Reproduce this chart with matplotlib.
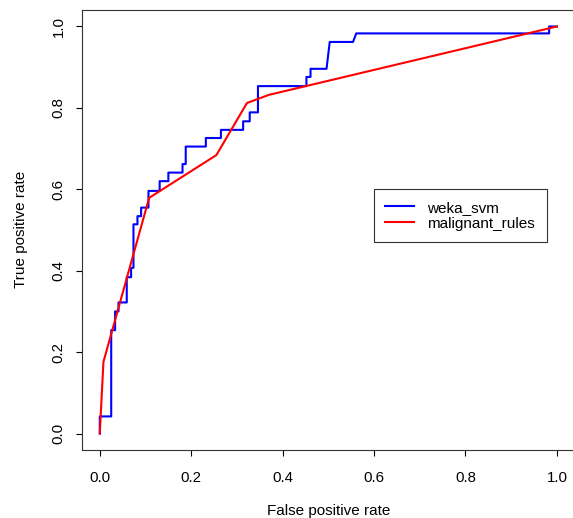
import matplotlib
matplotlib.use("Agg")
import matplotlib.pyplot as plt

plt.rcParams['font.family'] = ['Liberation Sans', 'DejaVu Sans']

# weka_svm ROC curve (corner points of the step path)
svm_fpr = [0.0, 0.0, 0.025, 0.025, 0.0335, 0.0335, 0.041, 0.041, 0.059, 0.059,
           0.0685, 0.0685, 0.0737, 0.0737, 0.0824, 0.0824, 0.0904, 0.0904,
           0.1065, 0.1065, 0.131, 0.131, 0.15, 0.15, 0.181, 0.181, 0.188, 0.188,
           0.232, 0.232, 0.265, 0.265, 0.3136, 0.3136, 0.328, 0.328, 0.346, 0.346,
           0.452, 0.452, 0.461, 0.461, 0.496, 0.503, 0.554, 0.561, 0.983, 0.983, 1.0]
svm_tpr = [0.0, 0.042, 0.042, 0.254, 0.254, 0.30, 0.30, 0.322, 0.322, 0.384,
           0.384, 0.407, 0.407, 0.514, 0.514, 0.534, 0.534, 0.555,
           0.555, 0.596, 0.596, 0.62, 0.62, 0.641, 0.641, 0.662, 0.662, 0.705,
           0.705, 0.726, 0.726, 0.746, 0.746, 0.767, 0.767, 0.789, 0.789, 0.8535,
           0.8535, 0.876, 0.876, 0.896, 0.896, 0.962, 0.962, 0.983, 0.983, 1.0, 1.0]

# malignant_rules ROC curve
rules_fpr = [0.0, 0.008, 0.108, 0.255, 0.322, 0.37, 1.0]
rules_tpr = [0.0, 0.176, 0.579, 0.684, 0.812, 0.832, 1.0]

ticks = [0.0, 0.2, 0.4, 0.6, 0.8, 1.0]
tick_labels = ["0.0", "0.2", "0.4", "0.6", "0.8", "1.0"]

W, H = 573, 518
fig = plt.figure(figsize=(W / 100, H / 100), dpi=100)
ax = fig.add_axes([81.5 / W, (H - 449.8) / H, 493.7 / W, 439.6 / H])

ax.plot(svm_fpr, svm_tpr, color='#0000FF', lw=1.5, label='weka_svm')
ax.plot(rules_fpr, rules_tpr, color='#FF0000', lw=1.5, label='malignant_rules')

ax.set_xlim(-0.04, 1.04)
ax.set_ylim(-0.04, 1.04)
ax.set_xticks(ticks)
ax.set_xticklabels(tick_labels)
ax.set_yticks(ticks)
ax.set_yticklabels(tick_labels, rotation=90, va='center')
ax.tick_params(axis='both', direction='out', length=4.3, width=0.8,
               labelsize=10.8, color='black')
ax.tick_params(axis='x', pad=10.8)
ax.tick_params(axis='y', pad=7)
for s in ax.spines.values():
    s.set_linewidth(0.8)
    s.set_color('#333333')

# axis titles sit low, as in the original (partly at the bottom edge)
fig.text(328.4 / W, (H - 515) / H, "False positive rate", ha='center',
         va='baseline', fontsize=11)
fig.text(21 / W, (H - 229.5) / H, "True positive rate", ha='center',
         va='center', rotation=90, fontsize=11)

leg = ax.legend(loc='upper left', bbox_to_anchor=(374 / W, 1 - 189.3 / H),
                bbox_transform=fig.transFigure, fontsize=11, fancybox=False,
                edgecolor='#333333', framealpha=1, borderaxespad=0,
                handlelength=1.85, handletextpad=0.9, borderpad=0.75,
                labelspacing=0.12)
leg.get_frame().set_linewidth(0.8)

fig.savefig("out.png", dpi=100)
